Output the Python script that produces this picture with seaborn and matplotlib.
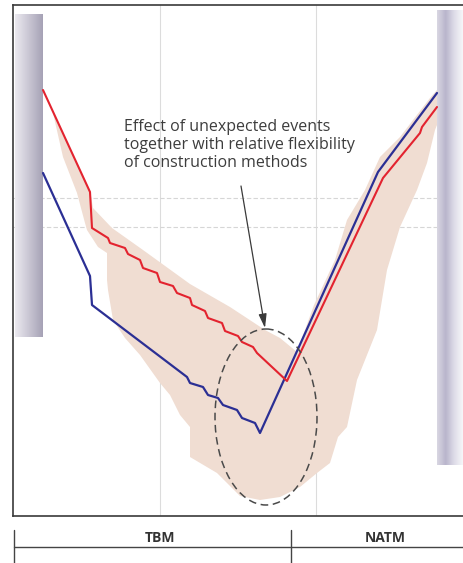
#! /usr/bin/env python3
import numpy as np
import seaborn as sns
import matplotlib.pyplot as plt
from matplotlib import patches as mpatches
from matplotlib.colors import LinearSegmentedColormap

# figure size in pixels
W, H = 463, 563
DPI = 100

# schematic coordinates (x to the right, y measured downwards like the drawing)
# red curve: TBM + NATM path, upper variant
red_x = [43, 90, 92, 108, 110, 125, 128, 140, 143, 157, 160, 173, 177, 190, 192,
         205, 208, 222, 225, 238, 242, 253, 257, 287, 383, 420, 422, 437]
red_y = [90, 192, 228, 238, 243, 248, 254, 260, 268, 273, 282, 286, 293, 298, 305,
         311, 318, 323, 331, 336, 342, 347, 353, 381, 178, 133, 127, 107]

# blue curve: lower variant
blue_x = [43, 90, 92, 187, 190, 203, 208, 218, 223, 237, 242, 255, 260, 378, 437]
blue_y = [173, 276, 305, 377, 383, 387, 395, 398, 405, 410, 418, 423, 433, 172, 93]

# shaded band of possible outcomes
band_x = [53, 90, 93, 112, 143, 190, 230, 265, 280, 297, 314, 335, 347, 365, 380,
          400, 430, 437, 437, 435, 427, 417, 400, 387, 377, 357, 347, 338, 330,
          317, 300, 280, 260, 240, 217, 190, 190, 180, 170, 160, 140, 125, 113,
          108, 107, 107, 98, 87, 85, 77, 63]
band_y = [113, 190, 208, 228, 250, 284, 307, 330, 338, 352, 305, 260, 220, 190, 157,
          137, 98, 90, 125, 130, 163, 190, 227, 270, 330, 380, 427, 437, 463,
          473, 487, 497, 500, 496, 473, 457, 427, 415, 395, 383, 355, 338, 320,
          290, 280, 253, 247, 230, 223, 193, 157]

# dashed ellipse (centre, width, height)
ell_center = (266, 417)
ell_w, ell_h = 102, 176

# arrow start / end
arrow_start = (241, 186)
arrow_end = (265, 328)

grid_x = [160, 316]
grid_y = [198, 227]

methods = ['TBM', 'NATM']
method_pos = [160, 385]
method_split = 291

note = ("Effect of unexpected events\n"
        "together with relative flexibility\n"
        "of construction methods")


def px_rect(x0, y0, x1, y1):
    return [x0 / W, 1 - y1 / H, (x1 - x0) / W, (y1 - y0) / H]


def main():
    sns.set_theme(style='white')
    plt.rcParams['font.family'] = ['Open Sans', 'DejaVu Sans']

    f = plt.figure(figsize=(W / DPI, H / DPI), dpi=DPI)

    # main schematic panel
    ax = f.add_axes(px_rect(13, 5, 470, 516))
    ax.set_xticks([])
    ax.set_yticks([])
    for s in ['left', 'top', 'bottom']:
        ax.spines[s].set_color('#3a3a3a')
        ax.spines[s].set_linewidth(1.2)
    ax.spines['right'].set_visible(False)

    for gx in grid_x:
        ax.axvline(gx, color='#dcdcdc', lw=0.8, zorder=0)
    for gy in grid_y:
        ax.axhline(gy, color='#d6d6d6', lw=0.8, ls=(0, (4, 2)), zorder=0)

    # gray bars at both ends
    left_cmap = LinearSegmentedColormap.from_list('l', ['#ebe9ef', '#c9c6d3', '#a6a2b6'])
    right_cmap = LinearSegmentedColormap.from_list('r', ['#d9d7e2', '#b9b5cc', '#dedce8', '#f6f6f9'])
    grad = np.linspace(0, 1, 64)[None, :]
    ax.imshow(grad, cmap=left_cmap, extent=(15, 43, 337, 14), aspect='auto', zorder=1)
    ax.imshow(grad, cmap=right_cmap, extent=(437, 463, 465, 10), aspect='auto', zorder=1)

    ax.fill(band_x, band_y, color='#f0ddd2', lw=0, zorder=1.5)

    sns.lineplot(x=blue_x, y=blue_y, sort=False, estimator=None, color='#2b2f94',
                 lw=1.6, ax=ax, zorder=3)
    sns.lineplot(x=red_x, y=red_y, sort=False, estimator=None, color='#e3232f',
                 lw=1.5, ax=ax, zorder=3)

    ell = mpatches.Ellipse(ell_center, ell_w, ell_h, fill=False, ec='#4a4a4a',
                           lw=1.1, ls=(0, (5, 3)), zorder=4)
    ax.add_patch(ell)

    ax.annotate('', xy=arrow_end, xytext=arrow_start,
                arrowprops=dict(arrowstyle='-|>,head_length=0.7,head_width=0.2',
                                color='#3a3a3a', lw=0.9, shrinkA=0, shrinkB=0),
                zorder=5)
    ax.text(124, 119, note, ha='left', va='top', fontsize=11.5, color='#3d3d3d',
            linespacing=1.18, zorder=5)
    ax.set_xlabel('')
    ax.set_ylabel('')
    ax.set_xlim(13, 470)
    ax.set_ylim(516, 5)

    # method table below
    tb = f.add_axes(px_rect(13, 525, 470, 563))
    tb.set_xlim(13, 470)
    tb.set_ylim(563, 525)
    tb.axis('off')
    tb.plot([14, 14], [530, 563], color='#444444', lw=1.0)
    tb.plot([method_split, method_split], [530, 563], color='#444444', lw=1.0)
    tb.plot([14, 470], [547, 547], color='#444444', lw=1.0)
    for m, p in zip(methods, method_pos):
        tb.text(p, 538, m, ha='center', va='center', fontsize=10,
                fontweight='bold', color='#333333')

    f.savefig('out.png', dpi=DPI)


if __name__ == "__main__":
    main()
